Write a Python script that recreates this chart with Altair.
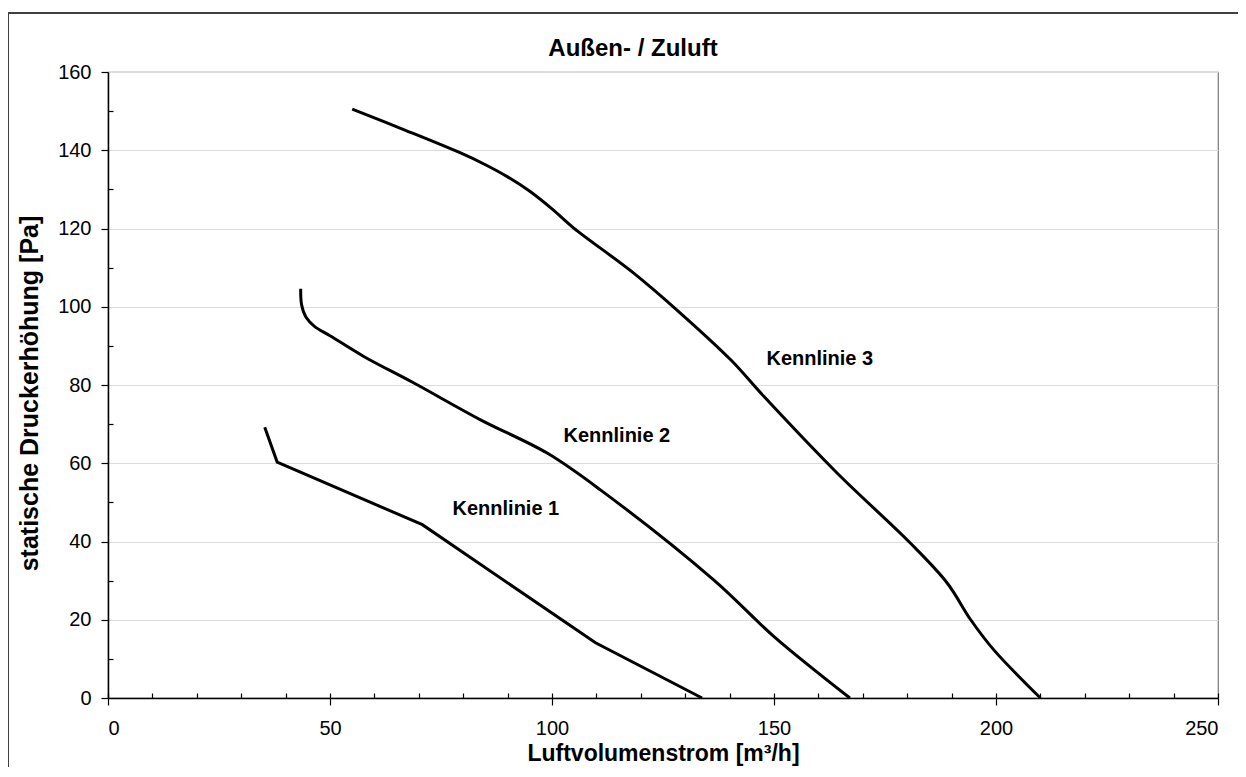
import altair as alt
import pandas as pd

# Kennlinie 1 (Luftvolumenstrom m³/h, statische Druckerhöhung Pa)
k1_q = [35.3, 38.1, 70.8, 109.8, 133.8]
k1_p = [69.2, 60.3, 44.3, 14.1, 0.0]

# Kennlinie 2
k2_q = [43.4, 43.6, 44.6, 46.5, 50.0, 57.6, 68.9, 83.9, 98.9, 110.9, 136.4, 150.0, 167.1]
k2_p = [104.6, 100.5, 97.3, 95.0, 92.6, 87.3, 80.5, 71.1, 62.6, 53.2, 30.2, 15.7, 0.0]

# Kennlinie 3
k3_q = [55.0, 67.0, 79.4, 85.0, 90.0, 95.0, 100.0, 104.9, 118.4, 128.9, 140.2, 147.7, 164.2, 180.7, 189.0, 194.3, 199.5, 210.0]
k3_p = [150.5, 145.1, 139.3, 136.3, 133.2, 129.5, 125.0, 120.1, 108.6, 98.4, 86.5, 77.1, 57.5, 39.6, 29.4, 20.0, 12.3, 0.0]

# curve labels
lab_text = ["Kennlinie 1", "Kennlinie 2", "Kennlinie 3"]
lab_q = [77.6, 102.6, 148.3]
lab_p = [48.4, 67.0, 86.7]

x_major = [0, 50, 100, 150, 200, 250]
x_minor = list(range(0, 251, 10))
y_major = list(range(0, 161, 20))
y_minor = list(range(10, 160, 20))

FONT = "Liberation Sans"

df1 = pd.DataFrame({"Q": k1_q, "P": k1_p})
df23 = pd.concat([
    pd.DataFrame({"Q": k2_q, "P": k2_p, "curve": "Kennlinie 2"}),
    pd.DataFrame({"Q": k3_q, "P": k3_p, "curve": "Kennlinie 3"}),
])
dfl = pd.DataFrame({"Q": lab_q, "P": lab_p, "label": lab_text})

xs = alt.Scale(domain=[0, 250], nice=False, zero=False)
ys = alt.Scale(domain=[0, 160], nice=False, zero=False)

x_main = alt.Axis(orient="bottom", values=x_major, tickSize=7, tickWidth=1.2, tickColor="black",
                  domainColor="black", domainWidth=1.5, labelFontSize=20, labelColor="black",
                  labelPadding=13, labelFont=FONT, grid=False,
                  title="Luftvolumenstrom [m³/h]", titleFontSize=23, titleFontWeight="bold",
                  titleColor="black", titleFont=FONT, titlePadding=4)
y_main = alt.Axis(orient="left", values=y_major, tickSize=7, tickWidth=1.2, tickColor="black",
                  domainColor="black", domainWidth=1.5, labelFontSize=20, labelColor="black",
                  labelPadding=10, labelFont=FONT, grid=True, gridColor="#dcdcdc", gridWidth=1.2,
                  title="statische Druckerhöhung [Pa]", titleFontSize=25, titleFontWeight="bold",
                  titleColor="black", titleFont=FONT, titlePadding=15, titleY=321)
x_inner = alt.Axis(orient="bottom", values=x_minor, offset=-5, tickSize=5, tickWidth=1.2,
                   tickColor="black", domain=False, labels=False, grid=False, title=None)
y_inner = alt.Axis(orient="left", values=y_minor, offset=-5, tickSize=5, tickWidth=1.2,
                   tickColor="black", domain=False, labels=False, grid=False, title=None)

line1 = alt.Chart(df1).mark_line(color="black", strokeWidth=3, interpolate="linear").encode(
    x=alt.X("Q:Q", scale=xs, axis=x_main),
    y=alt.Y("P:Q", scale=ys, axis=y_main),
)

line23 = alt.Chart(df23).mark_line(color="black", strokeWidth=3, interpolate="catmull-rom").encode(
    x=alt.X("Q:Q", scale=xs, axis=None),
    y=alt.Y("P:Q", scale=ys, axis=None),
    detail="curve:N",
)

labels = alt.Chart(dfl).mark_text(align="left", baseline="middle", fontSize=20, fontWeight="bold",
                                  font=FONT, color="black").encode(
    x=alt.X("Q:Q", scale=xs, axis=x_inner),
    y=alt.Y("P:Q", scale=ys, axis=y_inner),
    text="label:N",
)

# outer chart frame (top and left edges; the others lie beyond the page)
frame_top = alt.Chart(dfl).mark_rule(stroke="#404040", strokeWidth=2).encode(
    x=alt.value(-101), x2=alt.value(3000), y=alt.value(-59),
)
frame_left = alt.Chart(dfl).mark_rule(stroke="#404040", strokeWidth=2).encode(
    x=alt.value(-100), y=alt.value(-60), y2=alt.value(3000),
)

chart = alt.layer(frame_top, frame_left, line1, line23, labels).resolve_axis(
    x="independent", y="independent"
).properties(
    width=1110, height=626,
    title=alt.TitleParams("Außen- / Zuluft", fontSize=24, fontWeight="bold", font=FONT,
                          color="black", anchor="middle", frame="group", dx=-30,
                          baseline="alphabetic", offset=-69),
    autosize=alt.AutoSizeParams(type="none"),
    padding={"left": 100, "top": 64, "right": 20, "bottom": 69},
).configure(font=FONT).configure_view(stroke="#7a7a7a", strokeWidth=1.2)

chart.save("out.html", embed_options={"renderer": "svg", "actions": False})
